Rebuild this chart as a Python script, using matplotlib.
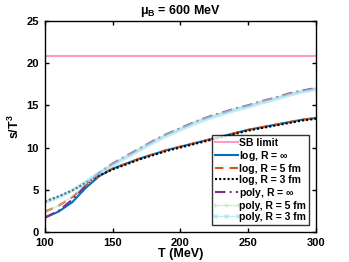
import numpy as np
import matplotlib
matplotlib.use('Agg')
import matplotlib.pyplot as plt

plt.rcParams['font.family'] = ['Liberation Sans', 'DejaVu Sans']
plt.rcParams['font.weight'] = 'bold'
plt.rcParams['mathtext.default'] = 'regular'

###### data ######
T = [100, 110, 120, 130, 140, 150, 160, 170, 180, 190, 200,
     210, 220, 230, 240, 250, 260, 270, 280, 290, 300]

sb_limit = 20.85

log_inf = [1.7, 2.4, 3.5, 5.2, 6.6, 7.5, 8.1, 8.7, 9.2, 9.7, 10.1,
           10.5, 10.9, 11.3, 11.7, 12.1, 12.4, 12.7, 13.0, 13.3, 13.5]
log_5 = [2.4, 3.1, 4.1, 5.5, 6.7, 7.5, 8.1, 8.7, 9.2, 9.7, 10.1,
         10.5, 10.9, 11.3, 11.7, 12.1, 12.4, 12.7, 13.0, 13.3, 13.5]
log_3 = [3.6, 4.2, 4.9, 5.8, 6.7, 7.4, 8.0, 8.6, 9.1, 9.6, 10.0,
         10.4, 10.8, 11.2, 11.6, 12.0, 12.3, 12.6, 12.9, 13.2, 13.4]

poly_inf = [1.7, 2.5, 3.8, 5.5, 7.0, 8.1, 9.0, 9.9, 10.8, 11.6, 12.3,
            13.0, 13.6, 14.1, 14.6, 15.0, 15.5, 15.9, 16.4, 16.75, 17.05]
poly_5 = [2.4, 3.1, 4.2, 5.7, 7.0, 8.1, 9.0, 9.9, 10.8, 11.6, 12.3,
          13.0, 13.6, 14.1, 14.6, 15.0, 15.5, 15.9, 16.4, 16.7, 17.0]
poly_3 = [3.5, 4.1, 4.9, 5.9, 7.0, 7.9, 8.8, 9.7, 10.6, 11.4, 12.1,
          12.8, 13.4, 13.9, 14.4, 14.8, 15.3, 15.7, 16.2, 16.6, 16.9]

labels = ['SB limit', r'log, R = $\infty$', 'log, R = 5 fm', 'log, R = 3 fm',
          r'poly, R = $\infty$', 'poly, R = 5 fm', 'poly, R = 3 fm']

###### plot ######
fig = plt.figure(figsize=(3.49, 2.62), dpi=100)
ax = fig.add_axes([0.129, 0.115, 0.776, 0.805])

ax.plot([100, 300], [sb_limit, sb_limit], color=(1.0, 0.6, 0.78), lw=1.5, label=labels[0])
ax.plot(T, log_inf, color=(0, 0.447, 0.741), lw=1.5, label=labels[1])
ax.plot(T, log_5, color=(0.85, 0.325, 0.098), lw=1.5, ls=(0, (4, 3)), label=labels[2])
ax.plot(T, log_3, color='k', lw=1.5, ls=(0, (1, 1)), label=labels[3])
ax.plot(T, poly_inf, color=(0.494, 0.184, 0.556), lw=1.5, ls=(0, (5, 2, 1, 2)), label=labels[4])
ax.plot(T, poly_5, color=(0.75, 0.88, 0.7), lw=1.0, alpha=0.6, marker='+', ms=3,
        markevery=[], label=labels[5])
ax.plot(T, poly_3, color=(0.55, 0.85, 0.95), lw=2.5, alpha=0.55, marker='x', ms=3,
        markevery=[], label=labels[6])

ax.set_xlim(100, 300)
ax.set_ylim(0, 25)
ax.set_xticks([100, 150, 200, 250, 300])
ax.set_yticks([0, 5, 10, 15, 20, 25])
ax.tick_params(direction='in', length=3, width=1, labelsize=8, top=True, right=True)
ax.tick_params(axis='x', pad=4.5)
ax.tick_params(axis='y', pad=4.5)
for s in ax.spines.values():
    s.set_linewidth(1.0)

ax.set_xlabel('T (MeV)', fontsize=9, fontweight='bold', labelpad=0)
ax.set_ylabel('s/T$^3$', fontsize=9, fontweight='bold', labelpad=3)
ax.set_title(r'$\mu_B$ = 600 MeV', fontsize=9, fontweight='bold', pad=5)

leg = ax.legend(loc='lower right', fontsize=7.5, frameon=True, fancybox=False,
                borderpad=0.25, labelspacing=0.1, handlelength=2.2, handletextpad=0.15,
                borderaxespad=0.7, markerscale=1)
leg.get_frame().set_edgecolor('k')
leg.get_frame().set_linewidth(1.0)
for h in leg.legend_handles[5:]:
    h.set_markevery(None)
leg.legend_handles[6].set_linewidth(1.0)

fig.savefig('out.png', dpi=100)
print('done')
